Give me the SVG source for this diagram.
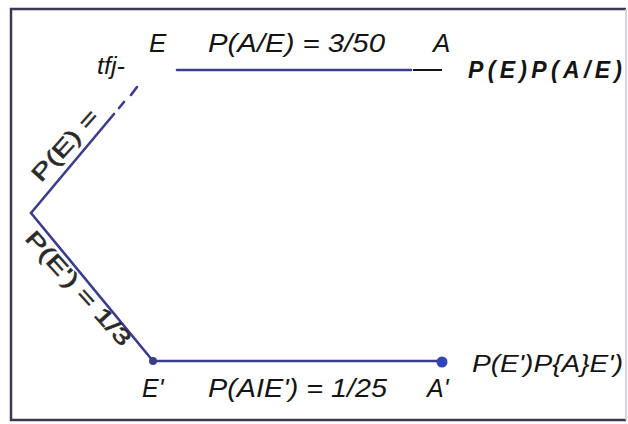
<svg xmlns="http://www.w3.org/2000/svg" width="628" height="424" viewBox="0 0 628 424">
<style>
.edge{stroke:#3c3c8c;stroke-width:2.6;fill:none;stroke-linecap:round}
.t{font-family:"Liberation Sans",Arial,sans-serif;font-style:italic;fill:#141414}
.lbl{font-family:"Liberation Sans",Arial,sans-serif;fill:#2a2a2a;stroke:#2a2a2a;stroke-width:0.6}
.frame{stroke:#3a3a52;stroke-width:2.5;fill:none}
</style>
<rect x="0" y="0" width="628" height="424" fill="#ffffff"/>
<g id="frame">
<path class="frame" d="M626 9 H11 V420 H626"/>
<line x1="626" y1="9" x2="626" y2="420" stroke="#c8c8d0" stroke-width="1.5"/>
</g>
<g id="connectors">
<line class="edge" x1="31" y1="213" x2="114" y2="114"/>
<line class="edge" x1="119" y1="108" x2="124" y2="102"/>
<line class="edge" x1="131" y1="95" x2="137" y2="87"/>
<line class="edge" x1="31" y1="213" x2="153" y2="361"/>
<line class="edge" x1="177" y1="70" x2="411" y2="70"/>
<line x1="413" y1="70" x2="442" y2="70" stroke="#141414" stroke-width="2"/>
<line class="edge" x1="153" y1="361" x2="440" y2="361"/>
<text class="lbl" font-size="22" transform="translate(41,183) rotate(-48)" textLength="88" lengthAdjust="spacingAndGlyphs">P(E) =</text>
<text class="lbl" font-size="22" transform="translate(24,239) rotate(48)" textLength="146" lengthAdjust="spacingAndGlyphs">P(E') = 1/3</text>
<text class="t" font-size="26" x="208" y="52" textLength="177" lengthAdjust="spacingAndGlyphs">P(A/E) = 3/50</text>
<text class="t" font-size="25" x="208" y="397" textLength="179" lengthAdjust="spacingAndGlyphs">P(AIE') = 1/25</text>
</g>
<g id="root">
<text class="t" font-size="23" x="97" y="74" textLength="28" lengthAdjust="spacingAndGlyphs">tfj-</text>
</g>
<g id="node-E">
<text class="t" font-size="26" x="149" y="52">E</text>
</g>
<g id="node-A">
<text class="t" font-size="26" x="433" y="52">A</text>
<text class="t" font-size="23" font-weight="bold" x="468" y="78" textLength="154" lengthAdjust="spacing">P(E)P(A/E)</text>
</g>
<g id="node-E2">
<circle cx="153" cy="361" r="4" fill="#3c3c8c"/>
<text class="t" font-size="25" x="142" y="397">E'</text>
</g>
<g id="node-A2">
<circle cx="442" cy="362" r="5.5" fill="#3344bb"/>
<text class="t" font-size="25" x="427" y="397">A'</text>
<text class="t" font-size="24" x="472" y="372" textLength="151" lengthAdjust="spacingAndGlyphs">P(E')P{A}E')</text>
</g>
</svg>
